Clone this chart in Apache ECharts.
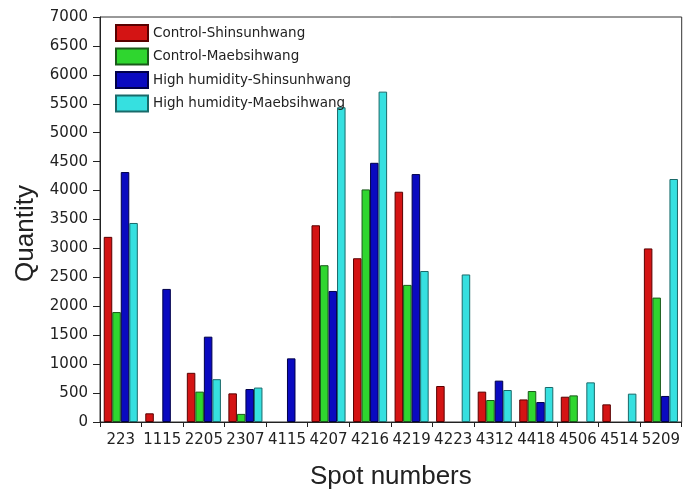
<!DOCTYPE html>
<html><head><meta charset="utf-8">
<script src="https://cdn.jsdelivr.net/npm/echarts@6/dist/echarts.min.js"></script>
<style>html,body{margin:0;padding:0;background:#fff}#c{width:683px;height:495px}</style>
</head><body><div id="c"></div>
<script>
var categories = ['223','1115','2205','2307','4115','4207','4216','4219','4223','4312','4418','4506','4514','5209'];
var controlShin = [3200,150,850,495,null,3400,2830,3980,622,525,390,437,305,3000];
var controlMaeb = [1900,null,525,140,null,2710,4020,2370,null,380,535,460,null,2150];
var humidShin = [4320,2300,1475,570,1100,2265,4480,4285,null,715,345,null,null,450];
var humidMaeb = [3440,null,740,595,null,5440,5710,2610,2550,553,605,685,490,4200];
var seriesNames = ['Control-Shinsunhwang','Control-Maebsihwang','High humidity-Shinsunhwang','High humidity-Maebsihwang'];
var yTicks = [0,500,1000,1500,2000,2500,3000,3500,4000,4500,5000,5500,6000,6500,7000];

var colors = ['#d41414','#2fd62f','#0a0ac0','#36e0e0'];
var borders = ['#5a0000','#1a5a1a','#00004a','#1a6a6a'];
var dataSets = [controlShin, controlMaeb, humidShin, humidMaeb];

var chart = echarts.init(document.getElementById('c'));
chart.setOption({
  animation:false,
  textStyle:{fontFamily:'Liberation Sans, Arial, sans-serif'},
  grid:{left:100,right:1,top:17,bottom:73,show:true,borderColor:'#333',borderWidth:1},
  legend:{
    orient:'vertical',left:110,top:19,itemWidth:32,itemHeight:16,itemGap:5.5,icon:'rect',
    textStyle:{fontSize:13.5,color:'#222',fontFamily:'DejaVu Sans'},
    data:seriesNames
  },
  xAxis:{
    type:'category',data:categories,
    name:'Spot numbers',nameLocation:'middle',nameGap:42,
    nameTextStyle:{fontSize:26,color:'#222'},
    axisLine:{lineStyle:{color:'#222',width:1}},
    axisTick:{show:true,inside:false,length:5,lineStyle:{color:'#222'}},
    axisLabel:{fontSize:15,color:'#222',margin:11,interval:0,fontFamily:'DejaVu Sans'}
  },
  yAxis:{
    type:'value',min:0,max:7000,interval:500,
    name:'Quantity',nameLocation:'middle',nameGap:61,
    nameTextStyle:{fontSize:26,color:'#222',padding:[0,28,0,0]},
    axisLine:{show:true,lineStyle:{color:'#222',width:1}},
    axisTick:{show:true,length:7,lineStyle:{color:'#222'}},
    axisLabel:{fontSize:15,color:'#222',margin:12,fontFamily:'DejaVu Sans',
      formatter:function(v){return yTicks.indexOf(v)>=0?String(v):'';}},
    splitLine:{show:false}
  },
  series: seriesNames.map(function(n,i){
    return {name:n,type:'bar',data:dataSets[i],barGap:'0%',barCategoryGap:'18%',
      itemStyle:{color:colors[i],borderColor:borders[i],borderWidth:1}};
  })
});
</script></body></html>
